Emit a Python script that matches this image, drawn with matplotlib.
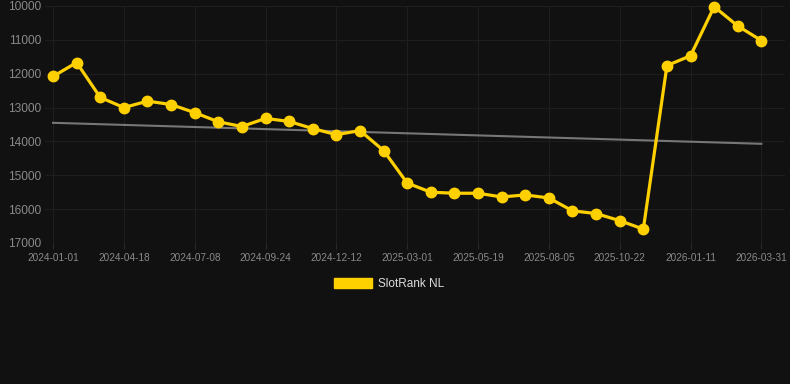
import matplotlib
matplotlib.use("Agg")
import matplotlib.pyplot as plt
from matplotlib.patches import Patch

# Rank values (lower is better, axis inverted)
dates = [
    "2024-01-01", "", "", "2024-04-18", "", "", "2024-07-08", "", "",
    "2024-09-24", "", "", "2024-12-12", "", "", "2025-03-01", "", "",
    "2025-05-19", "", "", "2025-08-05", "", "", "2025-10-22", "", "",
    "2026-01-11", "", "", "2026-03-31",
]
ranks = [
    12080, 11670, 12700, 13000, 12810, 12910, 13150, 13420, 13560, 13320,
    13410, 13620, 13800, 13680, 14270, 15230, 15500, 15530, 15530, 15640,
    15580, 15670, 16050, 16130, 16340, 16590, 11760, 11470, 10020, 10590,
    11020,
]
trend_start = 13450
trend_end = 14070

plt.rcParams["font.family"] = ["Liberation Sans", "DejaVu Sans"]

fig = plt.figure(figsize=(7.9, 3.84), dpi=100, facecolor="#111111")
ax = fig.add_axes([45 / 790, 1 - 243 / 384, 740 / 790, 237 / 384])
ax.set_facecolor("#111111")

x = list(range(len(ranks)))
ax.plot([x[0], x[-1]], [trend_start, trend_end], color="#777777", lw=1.5, zorder=2)
ax.plot(x, ranks, color="#FFD000", lw=2.3, marker="o", markersize=7.5, zorder=3, clip_on=False)

ax.set_xlim(-0.34, 31.0)
ax.set_ylim(17000, 10000)
ax.set_yticks(range(10000, 17001, 1000))

tick_idx = [i for i, d in enumerate(dates) if d]
ax.set_xticks(tick_idx)
ax.set_xticklabels([dates[i] for i in tick_idx])

ax.grid(True, color="#1e1e1e", lw=0.8)
ax.set_axisbelow(True)
for s in ax.spines.values():
    s.set_visible(False)

ax.tick_params(axis="y", length=0, pad=3, labelsize=8.6, labelcolor="#8a8a8a")
ax.tick_params(axis="x", length=4, color="#2a2a2a", pad=3, labelsize=7.2, labelcolor="#8a8a8a")

handle = Patch(facecolor="#FFD000", edgecolor="#FFD000")
fig.legend([handle], ["SlotRank NL"], loc="center", bbox_to_anchor=(389 / 790, 1 - 284 / 384),
           frameon=False, fontsize=8.5, labelcolor="#dddddd",
           handlelength=3.3, handleheight=0.9, handletextpad=0.5)

fig.savefig("out.png", dpi=100, facecolor=fig.get_facecolor())
